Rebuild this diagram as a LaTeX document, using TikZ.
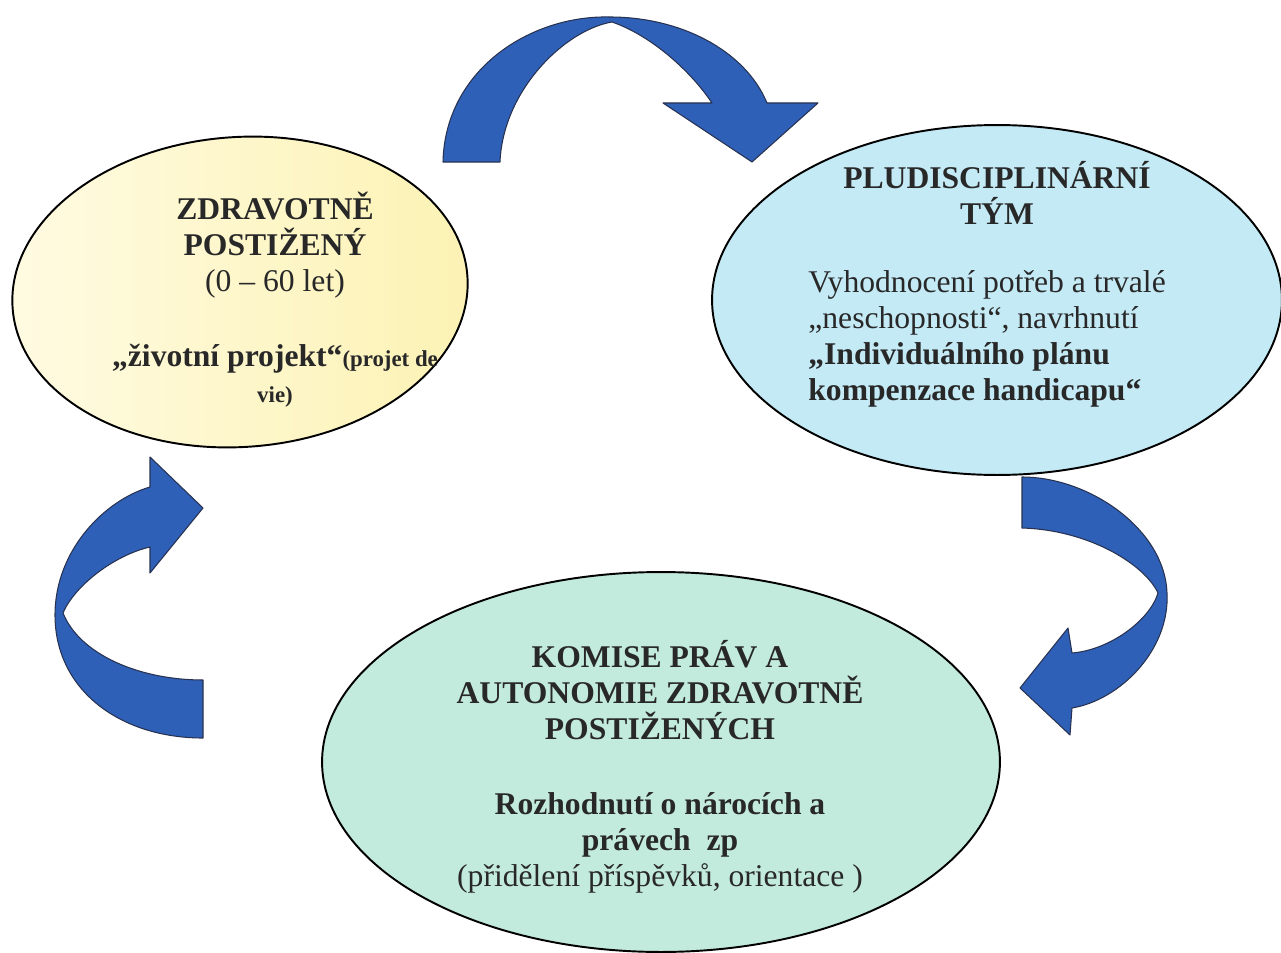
\documentclass[tikz,border=0pt]{standalone}
\usepackage{fontspec}
\setmainfont{Liberation Serif}
\usepackage{tikz}
\usetikzlibrary{shapes.geometric, calc}
\definecolor{arrowblue}{RGB}{46, 96, 184}
\definecolor{arrowedge}{RGB}{40, 50, 80}
\definecolor{paleyellow}{RGB}{252, 242, 180}
\definecolor{creamyellow}{RGB}{255, 251, 226}
\definecolor{paleblue}{RGB}{196, 234, 246}
\definecolor{palegreen}{RGB}{195, 235, 221}
\definecolor{inkgray}{RGB}{40, 40, 40}

\begin{document}
\begin{tikzpicture}[x=0.02cm, y=-0.02cm,
  bubble/.style={ellipse, draw=black, line width=1.1pt, inner sep=0pt},
  bubbletext/.style={text=inkgray, font=\fontsize{18}{20.5}\selectfont, inner sep=0pt},
  blockarrow/.style={fill=arrowblue, draw=arrowedge, line width=0.6pt, line join=round}]
  \useasboundingbox (0,0) rectangle (1281,953);

  % Ellipses
  \node[bubble, minimum width=9.12cm, minimum height=6.2cm, rotate=4,
        left color=creamyellow, right color=paleyellow] (zp) at (240,292) {};
  \node[bubble, minimum width=11.4cm, minimum height=7cm, fill=paleblue] (team) at (997,300) {};
  \node[bubble, minimum width=13.56cm, minimum height=7.6cm, fill=palegreen] (komise) at (661,762) {};

  % Texts
  \node[bubbletext, align=center] (zptext) at (275,300)
    {\textbf{ZDRAVOTNĚ}\\\textbf{POSTIŽENÝ}\\(0 – 60 let)\\[22pt]
     \textbf{„životní projekt“{\fontsize{13}{15}\selectfont(projet de}}\\
     {\fontsize{13}{15}\selectfont\bfseries vie)}};
  \node[bubbletext, align=center, font=\bfseries\fontsize{18}{20.5}\selectfont] (teamhead)
    at (997,193) {PLUDISCIPLINÁRNÍ\\TÝM};
  \node[bubbletext, align=left, anchor=west] (teambody) at (808,339)
    {Vyhodnocení potřeb a trvalé\\„neschopnosti“, navrhnutí\\
     \textbf{„Individuálního plánu}\\\textbf{kompenzace handicapu“}};
  \node[bubbletext, align=center] (komisetext) at (660,767)
    {\textbf{KOMISE PRÁV A}\\\textbf{AUTONOMIE ZDRAVOTNĚ}\\\textbf{POSTIŽENÝCH}\\[22pt]
     \textbf{Rozhodnutí o nárocích a}\\\textbf{právech\ \ zp}\\(přidělení příspěvků, orientace )};

  % Curved arrows
  \draw[blockarrow] (443,162) -- (500,162)
    .. controls (503,90) and (565,30) .. (612,22)
    .. controls (650,35) and (690,70) .. (712,103)
    -- (663,103) -- (752,162) -- (818,103) -- (767,103)
    .. controls (745,50) and (680,17) .. (610,17)
    .. controls (530,15) and (445,70) .. (443,162) -- cycle;
  \draw[blockarrow] (1022,477)
    .. controls (1090,477) and (1165,530) .. (1167,593)
    .. controls (1170,650) and (1120,700) .. (1072,708)
    -- (1070,735) -- (1020,688) -- (1068,628) -- (1072,653)
    .. controls (1110,650) and (1150,620) .. (1158,593)
    .. controls (1145,565) and (1090,530) .. (1022,528) -- cycle;
  \draw[blockarrow] (203,738)
    .. controls (120,738) and (55,690) .. (55,615)
    .. controls (55,550) and (105,500) .. (150,487)
    -- (150,457) -- (203,508) -- (150,573) -- (150,547)
    .. controls (115,555) and (75,585) .. (63,613)
    .. controls (80,655) and (140,680) .. (203,680) -- cycle;
\end{tikzpicture}
\end{document}
